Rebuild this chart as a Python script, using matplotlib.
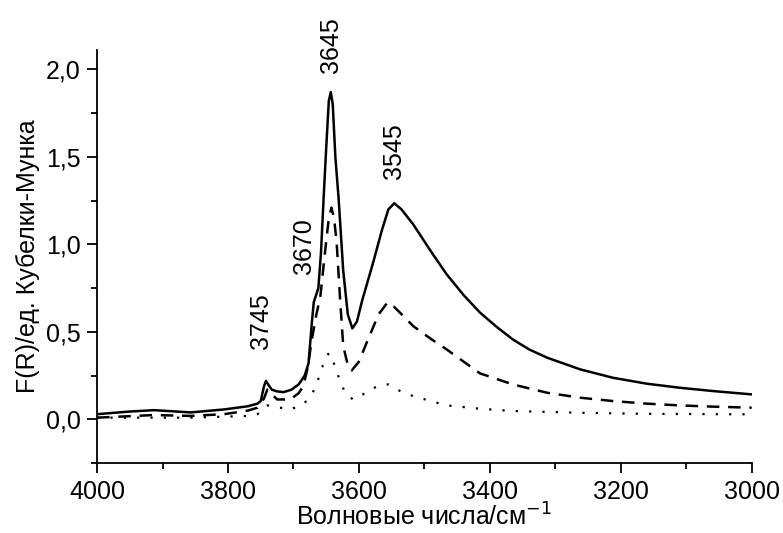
import matplotlib
matplotlib.use('Agg')
import matplotlib.pyplot as plt
from matplotlib.ticker import MultipleLocator, FuncFormatter

# --- Data ---
# wavenumbers (cm^-1) and F(R) values for each sample
wn_solid = [4000, 3950, 3913, 3857, 3806, 3770, 3755, 3750, 3745, 3742, 3737, 3733,
            3725, 3715, 3703, 3692, 3683, 3677, 3672, 3669, 3662, 3658, 3654, 3650,
            3646, 3643, 3640, 3636, 3631, 3624, 3617, 3610, 3603, 3595, 3578, 3565,
            3555, 3546, 3535, 3517, 3490, 3466, 3440, 3415, 3390, 3365, 3340, 3312,
            3262, 3212, 3160, 3110, 3059, 3000]
fr_solid = [0.03, 0.045, 0.053, 0.040, 0.057, 0.075, 0.09, 0.105, 0.19, 0.22, 0.19, 0.17,
            0.16, 0.156, 0.17, 0.20, 0.25, 0.32, 0.55, 0.67, 0.75, 0.95, 1.26, 1.55,
            1.82, 1.87, 1.80, 1.50, 1.26, 0.85, 0.60, 0.52, 0.56, 0.68, 0.90, 1.08,
            1.20, 1.235, 1.20, 1.114, 0.96, 0.829, 0.71, 0.61, 0.53, 0.457, 0.40, 0.352,
            0.286, 0.238, 0.204, 0.181, 0.162, 0.143]

wn_dash = [4000, 3913, 3857, 3806, 3770, 3755, 3745, 3740, 3732, 3725, 3705, 3692,
           3685, 3678, 3672, 3665, 3659, 3652, 3646, 3642, 3638, 3634, 3629, 3624,
           3617, 3611, 3600, 3588, 3570, 3557, 3552, 3540, 3517, 3490, 3466, 3440,
           3415, 3365, 3312, 3262, 3212, 3160, 3110, 3059, 3000]
fr_dash = [0.01, 0.025, 0.02, 0.03, 0.05, 0.067, 0.12, 0.17, 0.14, 0.114, 0.114, 0.15,
           0.19, 0.30, 0.457, 0.60, 0.70, 0.95, 1.15, 1.21, 1.15, 1.01, 0.70, 0.42,
           0.31, 0.28, 0.33, 0.44, 0.60, 0.665, 0.665, 0.62, 0.533, 0.46, 0.40, 0.33,
           0.263, 0.20, 0.152, 0.124, 0.105, 0.09, 0.08, 0.073, 0.067]

wn_dot = [4000, 3857, 3770, 3755, 3745, 3740, 3725, 3705, 3685, 3672, 3664, 3655,
          3646, 3640, 3634, 3621, 3609, 3595, 3583, 3568, 3555, 3537, 3517, 3466,
          3415, 3365, 3262, 3160, 3000]
fr_dot = [0.01, 0.01, 0.02, 0.03, 0.06, 0.08, 0.07, 0.057, 0.086, 0.14, 0.21, 0.31,
          0.38, 0.34, 0.27, 0.15, 0.114, 0.14, 0.17, 0.195, 0.2, 0.162, 0.133, 0.08,
          0.061, 0.048, 0.038, 0.032, 0.029]

# peak labels: where the label text is centred (data units)
peak_labels = ['3745', '3670', '3645', '3545']
peak_x = [3749, 3684, 3642, 3546]
peak_y = [0.56, 0.99, 2.14, 1.53]

FONT = 'Liberation Sans'
FS = 18


def decimal_comma(v, pos):
    return f'{v:.1f}'.replace('.', ',')


fig = plt.figure(figsize=(7.83, 5.33), dpi=100)
ax = fig.add_axes([0.124, 0.131, 0.836, 0.775])

ax.plot(wn_solid, fr_solid, color='black', lw=1.8, ls='-')
ax.plot(wn_dash, fr_dash, color='black', lw=1.8, ls=(0, (5, 3.5)))
ax.plot(wn_dot, fr_dot, color='black', lw=1.6, ls=(0, (1, 5)))

for lab, x, y in zip(peak_labels, peak_x, peak_y):
    ax.text(x, y, lab, rotation=90, ha='center', va='center',
            fontsize=FS, family=FONT, clip_on=False)

ax.set_xlim(4000, 3000)
ax.set_ylim(-0.25, 2.11)

ax.xaxis.set_major_locator(MultipleLocator(200))
ax.xaxis.set_minor_locator(MultipleLocator(100))
ax.yaxis.set_major_locator(MultipleLocator(0.5))
ax.yaxis.set_minor_locator(MultipleLocator(0.25))
ax.yaxis.set_major_formatter(FuncFormatter(decimal_comma))

ax.spines['top'].set_visible(False)
ax.spines['right'].set_visible(False)
for s in ('left', 'bottom'):
    ax.spines[s].set_linewidth(1.3)

ax.tick_params(which='major', direction='out', length=7, width=1.3,
               labelsize=FS, pad=5)
ax.tick_params(which='minor', direction='out', length=4, width=1.3)
for lbl in ax.get_xticklabels() + ax.get_yticklabels():
    lbl.set_family(FONT)

ax.set_xlabel('Волновые числа/см$^{-1}$', fontsize=FS, family=FONT, labelpad=0)
ax.set_ylabel('F(R)/ед. Кубелки-Мунка', fontsize=FS, family=FONT, labelpad=4)

fig.savefig('out.png', dpi=100)
